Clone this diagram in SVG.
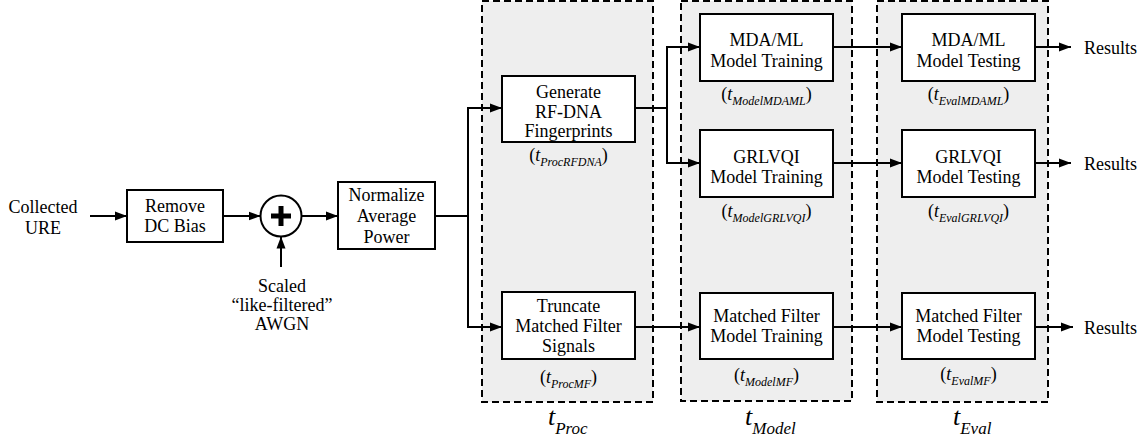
<svg xmlns="http://www.w3.org/2000/svg" width="1146" height="444" viewBox="0 0 1146 444" font-family="Liberation Serif, Times New Roman, serif">
  <style>
    .lbl { font-size: 18px; text-anchor: middle; font-family: "Liberation Serif", serif; }
    .res { font-size: 18px; font-family: "Liberation Serif", serif; }
    .it { font-style: italic; }
    .sub { font-size: 12px; font-style: italic; }
    .tbig { font-size: 26px; font-style: italic; font-family: "Liberation Serif", serif; }
    .tsub { font-size: 17px; font-style: italic; }
    .box { fill: #fff; stroke: #000; stroke-width: 2; }
    .stage { fill: #eeeeee; stroke: #000; stroke-width: 2; stroke-dasharray: 7 4; }
    .wire { fill: none; stroke: #000; stroke-width: 2; }
    .arrow { marker-end: url(#ah); }
  </style>
  <defs>
    <marker id="ah" markerWidth="13" markerHeight="10" refX="12" refY="5" orient="auto" markerUnits="userSpaceOnUse">
      <path d="M0,0.5 L12,5 L0,9.5 z" fill="#000"/>
    </marker>
  </defs>

  <!-- processing stages -->
  <g id="stage-proc">
    <rect class="stage" x="482" y="1" width="171" height="401"/>
    <text class="tbig" x="548" y="425">t<tspan class="tsub" dy="9">Proc</tspan></text>
  </g>
  <g id="stage-model">
    <rect class="stage" x="681" y="1" width="171" height="400"/>
    <text class="tbig" x="745" y="425">t<tspan class="tsub" dy="9">Model</tspan></text>
  </g>
  <g id="stage-eval">
    <rect class="stage" x="877" y="1" width="171" height="401"/>
    <text class="tbig" x="953" y="425">t<tspan class="tsub" dy="9">Eval</tspan></text>
  </g>

  <!-- input -->
  <g id="input">
    <text class="lbl" x="43" y="213">Collected</text>
    <text class="lbl" x="43" y="234">URE</text>
  </g>

  <g id="remove-dc">
    <rect class="box" x="127" y="190" width="96" height="52"/>
    <text class="lbl" x="175" y="212">Remove</text>
    <text class="lbl" x="175" y="232">DC Bias</text>
  </g>

  <g id="adder">
    <circle cx="281" cy="216" r="20.5" fill="#fff" stroke="#000" stroke-width="2"/>
    <path d="M271,216 H291 M281,206 V226" stroke="#000" stroke-width="5" fill="none"/>
  </g>

  <g id="noise">
    <text class="lbl" x="282" y="292">Scaled</text>
    <text class="lbl" x="282" y="311">“like-filtered”</text>
    <text class="lbl" x="282" y="330">AWGN</text>
  </g>

  <g id="normalize">
    <rect class="box" x="338" y="182" width="97" height="67"/>
    <text class="lbl" x="386.5" y="201">Normalize</text>
    <text class="lbl" x="386.5" y="222">Average</text>
    <text class="lbl" x="386.5" y="243">Power</text>
  </g>

  <!-- processing -->
  <g id="gen-rfdna">
    <rect class="box" x="502" y="76" width="133" height="66"/>
    <text class="lbl" x="568.5" y="98">Generate</text>
    <text class="lbl" x="568.5" y="117.5">RF-DNA</text>
    <text class="lbl" x="568.5" y="137">Fingerprints</text>
    <text class="lbl" x="568.5" y="161">(<tspan class="it">t</tspan><tspan class="sub" dy="5">ProcRFDNA</tspan><tspan dy="-5">)</tspan></text>
  </g>

  <g id="truncate-mf">
    <rect class="box" x="502" y="292" width="133" height="67"/>
    <text class="lbl" x="568.5" y="312">Truncate</text>
    <text class="lbl" x="568.5" y="332">Matched Filter</text>
    <text class="lbl" x="568.5" y="352">Signals</text>
    <text class="lbl" x="568.5" y="383">(<tspan class="it">t</tspan><tspan class="sub" dy="5">ProcMF</tspan><tspan dy="-5">)</tspan></text>
  </g>

  <!-- training -->
  <g id="train-mdaml">
    <rect class="box" x="700" y="14" width="133" height="67"/>
    <text class="lbl" x="766.5" y="46">MDA/ML</text>
    <text class="lbl" x="766.5" y="67">Model Training</text>
    <text class="lbl" x="766.5" y="100">(<tspan class="it">t</tspan><tspan class="sub" dy="5">ModelMDAML</tspan><tspan dy="-5">)</tspan></text>
  </g>

  <g id="train-grlvqi">
    <rect class="box" x="700" y="130" width="133" height="67"/>
    <text class="lbl" x="766.5" y="163">GRLVQI</text>
    <text class="lbl" x="766.5" y="183">Model Training</text>
    <text class="lbl" x="766.5" y="217">(<tspan class="it">t</tspan><tspan class="sub" dy="5">ModelGRLVQI</tspan><tspan dy="-5">)</tspan></text>
  </g>

  <g id="train-mf">
    <rect class="box" x="700" y="293" width="133" height="66"/>
    <text class="lbl" x="766.5" y="322">Matched Filter</text>
    <text class="lbl" x="766.5" y="342">Model Training</text>
    <text class="lbl" x="766.5" y="381">(<tspan class="it">t</tspan><tspan class="sub" dy="5">ModelMF</tspan><tspan dy="-5">)</tspan></text>
  </g>

  <!-- testing -->
  <g id="test-mdaml">
    <rect class="box" x="902" y="14" width="133" height="67"/>
    <text class="lbl" x="968.5" y="46">MDA/ML</text>
    <text class="lbl" x="968.5" y="67">Model Testing</text>
    <text class="lbl" x="968.5" y="100">(<tspan class="it">t</tspan><tspan class="sub" dy="5">EvalMDAML</tspan><tspan dy="-5">)</tspan></text>
  </g>

  <g id="test-grlvqi">
    <rect class="box" x="902" y="130" width="133" height="67"/>
    <text class="lbl" x="968.5" y="163">GRLVQI</text>
    <text class="lbl" x="968.5" y="183">Model Testing</text>
    <text class="lbl" x="968.5" y="217">(<tspan class="it">t</tspan><tspan class="sub" dy="5">EvalGRLVQI</tspan><tspan dy="-5">)</tspan></text>
  </g>

  <g id="test-mf">
    <rect class="box" x="902" y="293" width="133" height="66"/>
    <text class="lbl" x="968.5" y="322">Matched Filter</text>
    <text class="lbl" x="968.5" y="342">Model Testing</text>
    <text class="lbl" x="968.5" y="380">(<tspan class="it">t</tspan><tspan class="sub" dy="5">EvalMF</tspan><tspan dy="-5">)</tspan></text>
  </g>

  <!-- outputs -->
  <g id="out-mdaml"><text class="res" x="1084" y="54">Results</text></g>
  <g id="out-grlvqi"><text class="res" x="1084" y="170">Results</text></g>
  <g id="out-mf"><text class="res" x="1084" y="334">Results</text></g>

  <!-- connectors -->
  <g id="connectors">
    <path class="wire arrow" d="M90,216 H127"/>
    <path class="wire arrow" d="M223,216 H260.5"/>
    <path class="wire arrow" d="M281,267 V236.5"/>
    <path class="wire arrow" d="M301.5,216 H338"/>
    <path class="wire" d="M435,216 H468 M468,107 V328"/>
    <path class="wire arrow" d="M467,108 H502"/>
    <path class="wire arrow" d="M467,327 H502"/>
    <path class="wire" d="M635,108 H667 M667,46 V164"/>
    <path class="wire arrow" d="M666,47 H700"/>
    <path class="wire arrow" d="M666,163 H700"/>
    <path class="wire arrow" d="M635,327 H700"/>
    <path class="wire arrow" d="M833,47 H902"/>
    <path class="wire arrow" d="M833,163 H902"/>
    <path class="wire arrow" d="M833,327 H902"/>
    <path class="wire arrow" d="M1035,47 H1071"/>
    <path class="wire arrow" d="M1035,163 H1071"/>
    <path class="wire arrow" d="M1035,327 H1073"/>
  </g>
</svg>
